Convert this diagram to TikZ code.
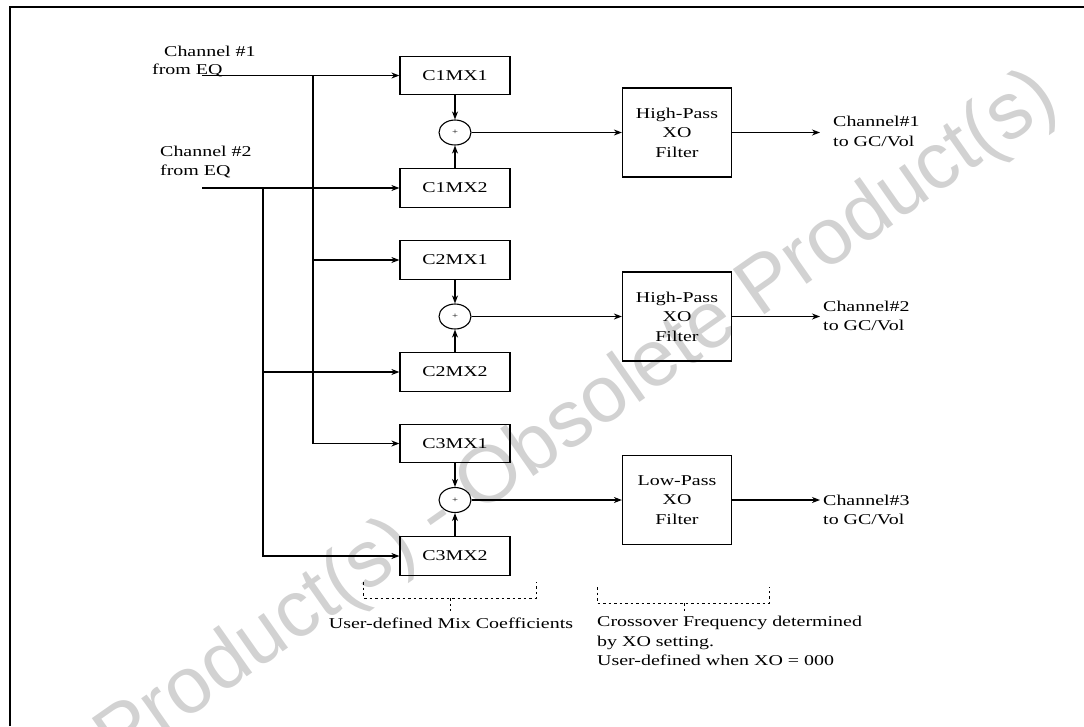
\documentclass[tikz,border=0pt]{standalone}
\usepackage{fontspec}
\setmainfont{Liberation Serif}[FakeStretch=1.33]
\newfontfamily\wmfont{Liberation Sans}
\usetikzlibrary{arrows.meta,shapes.geometric}
\definecolor{wmgray}{RGB}{210,210,210}
\begin{document}
\begin{tikzpicture}[x=1pt,y=-1pt,
  every node/.style={font=\fontsize{15}{19.5}\selectfont, inner sep=0pt},
  mixbox/.style={draw, line width=1.2pt, minimum width=110pt, minimum height=38.5pt},
  filt/.style={draw, line width=1.2pt, minimum width=109pt, minimum height=89pt, align=center},
  sumnode/.style={draw, ellipse, line width=1.1pt, minimum width=32pt, minimum height=25pt, font=\fontsize{8}{8}\selectfont},
  conn/.style={line width=1.2pt},
  arr/.style={conn, -{Stealth[length=8pt,width=6pt,inset=2.5pt]}},
  brk/.style={line width=0.9pt, dash pattern=on 2.5pt off 3pt},
  lbl/.style={align=left, anchor=west}]
\useasboundingbox (0,0) rectangle (1084,726);
% watermark
\node[rotate=35, text=wmgray, font=\wmfont\fontsize{80}{80}\selectfont] (wm) at (578,420) {Product(s) - Obsolete Product(s)};
% frame
\draw[line width=2pt] (10,726) -- (10,7) -- (1084,7);
% mix boxes
\node[mixbox] (c1mx1) at (455,75.5) {C1MX1};
\node[mixbox] (c1mx2) at (455,188) {C1MX2};
\node[mixbox] (c2mx1) at (455,260) {C2MX1};
\node[mixbox] (c2mx2) at (455,372) {C2MX2};
\node[mixbox] (c3mx1) at (455,443.5) {C3MX1};
\node[mixbox] (c3mx2) at (455,556) {C3MX2};
% summers
\node[sumnode] (s1) at (455,132.5) {+};
\node[sumnode] (s2) at (455,316.5) {+};
\node[sumnode] (s3) at (455,500) {+};
% filters
\node[filt] (hp1) at (677,132.5) {High-Pass\\XO\\Filter};
\node[filt] (hp2) at (677,316.5) {High-Pass\\XO\\Filter};
\node[filt] (lp) at (677,500) {Low-Pass\\XO\\Filter};
% input labels
\node[anchor=west] (ch1a) at (164,51) {Channel \#1};
\node[anchor=west] (ch1b) at (152,70) {from EQ};
\node[lbl] (ch2) at (160,162) {Channel \#2\\from EQ};
% inputs
\coordinate (in1) at (202,75.5);
\coordinate (j1) at (313,75.5);
\coordinate (in2) at (202,188);
\coordinate (j2) at (263,188);
\draw[arr] (in1) -- (c1mx1.west);
\draw[arr] (j1) |- (c3mx1.west);
\draw[arr] (j1 |- c2mx1.west) -- (c2mx1.west);
\draw[arr] (in2) -- (c1mx2.west);
\draw[arr] (j2) |- (c3mx2.west);
\draw[arr] (j2 |- c2mx2.west) -- (c2mx2.west);
% into summers
\draw[arr] (c1mx1) -- (s1);
\draw[arr] (c1mx2) -- (s1);
\draw[arr] (c2mx1) -- (s2);
\draw[arr] (c2mx2) -- (s2);
\draw[arr] (c3mx1) -- (s3);
\draw[arr] (c3mx2) -- (s3);
% summers to filters
\draw[arr] (s1) -- (hp1);
\draw[arr] (s2) -- (hp2);
\draw[arr] (s3) -- (lp);
% outputs
\coordinate (o1) at (820,132.5);
\coordinate (o2) at (820,316.5);
\coordinate (o3) at (820,500);
\draw[arr] (hp1.east) -- (o1);
\draw[arr] (hp2.east) -- (o2);
\draw[arr] (lp.east) -- (o3);
\node[lbl] (out1) at (833,131.5) {Channel\#1\\to GC/Vol};
\node[lbl] (out2) at (823,316) {Channel\#2\\to GC/Vol};
\node[lbl] (out3) at (823,510) {Channel\#3\\to GC/Vol};
% annotations
\node (mixc) at (451,623) {User-defined Mix Coefficients};
\node[align=left, anchor=north west] (xo) at (597,616) {Crossover Frequency determined\\by XO setting.\\User-defined when XO = 000};
\draw[brk] (363.5,582) -- (363.5,598) -- (536,598) -- (536,582);
\draw[brk] (450,598) -- (450,611);
\draw[brk] (597,587) -- (597,603) -- (769,603) -- (769,587);
\draw[brk] (684,603) -- (684,613);
\end{tikzpicture}
\end{document}
